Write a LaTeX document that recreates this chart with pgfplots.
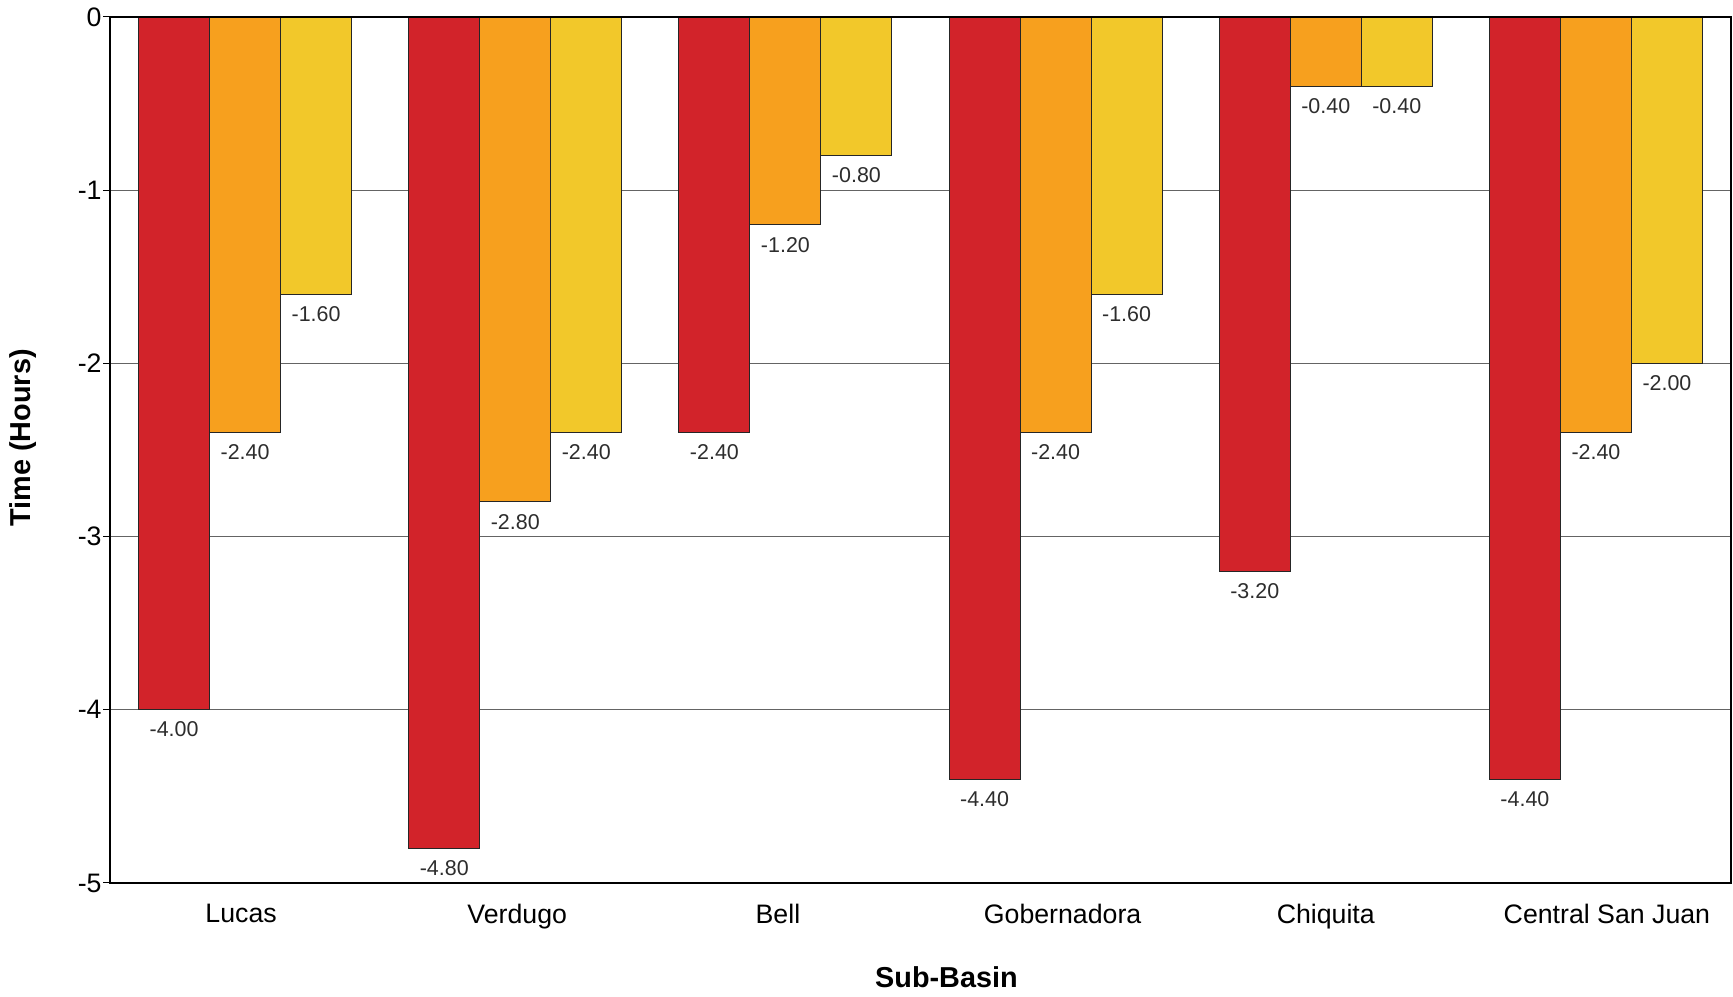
\documentclass[border=0pt]{standalone}
\usepackage{pgfplots}
\pgfplotsset{compat=1.18}
\usetikzlibrary{calc}
\usepackage{fontspec}
\setmainfont{Liberation Sans}
\definecolor{cRed}{RGB}{210,35,42}
\definecolor{cOrange}{RGB}{247,160,30}
\definecolor{cYellow}{RGB}{242,200,42}
\definecolor{cGrid}{RGB}{100,100,100}
\definecolor{cLab}{RGB}{45,45,45}
\begin{document}
\begin{tikzpicture}
\begin{axis}[
  name=ax,
  scale only axis,
  width=162.1mm, height=86.6mm,
  xmin=-0.5, xmax=5.5,
  ymin=-5, ymax=0,
  ybar=0pt,
  bar width=7.1mm,
  axis line style={line width=0.2mm, black},
  xtick={0,1,2,3,4,5},
  xticklabels={{\kern-0.8mm Lucas},{\kern0.4mm Verdugo},{\kern-1.5mm Bell},{\kern1.4mm Gobernadora},{Chiquita},{\kern2.2mm Central San Juan}},
  x tick style={draw=none},
  ytick={-5,-4,-3,-2,-1,0},
  ytick pos=left,
  tick align=outside,
  major tick length=0.7mm,
  y tick style={line width=0.1mm, black},
  ymajorgrids,
  grid style={line width=0.1mm, cGrid},
  tick label style={font=\fontsize{7.6}{8}\selectfont},
  /pgf/number format/assume math mode=true,
  xticklabel style={yshift=-0.15mm},
  yticklabel style={anchor=east, xshift=1.1mm},
  xlabel={Sub-Basin},
  ylabel={Time (Hours)},
  every axis x label/.style={at={(axis description cs:0.516,-0.1085)}, anchor=center, font=\fontsize{8.2}{9}\selectfont\bfseries},
  every axis y label/.style={at={(axis description cs:-0.0537,0.514)}, anchor=center, rotate=90, font=\fontsize{8.2}{9}\selectfont\bfseries},
  nodes near coords,
  nodes near coords align={vertical},
  every node near coord/.append style={font=\fontsize{6.1}{7}\selectfont, text=cLab,
     /pgf/number format/.cd, fixed, fixed zerofill, precision=2, assume math mode=true},
  axis on top=false,
]
\addplot[fill=cRed, draw=black!85, line width=0.1mm] coordinates {(0,-4.00) (1,-4.80) (2,-2.40) (3,-4.40) (4,-3.20) (5,-4.40)};
\addplot[fill=cOrange, draw=black!85, line width=0.1mm] coordinates {(0,-2.40) (1,-2.80) (2,-1.20) (3,-2.40) (4,-0.40) (5,-2.40)};
\addplot[fill=cYellow, draw=black!85, line width=0.1mm] coordinates {(0,-1.60) (1,-2.40) (2,-0.80) (3,-1.60) (4,-0.40) (5,-2.00)};
\foreach \b in {0.5,1.5,2.5,3.5,4.5}{
  \edef\tmp{\noexpand\draw[line width=0.1mm, black!80] (axis cs:\b,0) -- ++(0,-0.8mm);}\tmp
}
\draw[line width=0.2mm, black] (rel axis cs:0,0) rectangle (rel axis cs:1,1);
\end{axis}
\pgfresetboundingbox
\path[use as bounding box] ($(ax.south west)+(-11.0mm,-11.4mm)$) rectangle ($(ax.north east)+(0.2mm,1.7mm)$);
\end{tikzpicture}
\end{document}
